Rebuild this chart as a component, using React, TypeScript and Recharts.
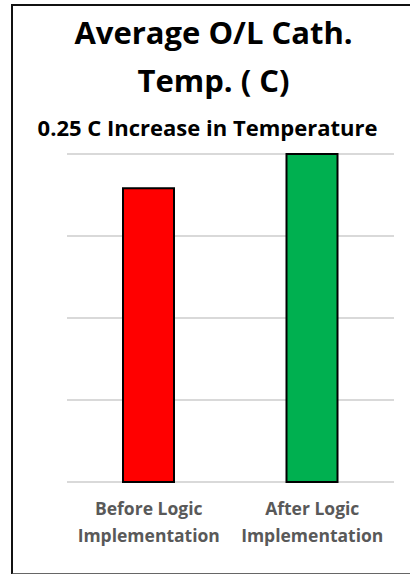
import React from 'react';
import { BarChart, Bar, XAxis, YAxis, CartesianGrid, Cell } from 'recharts';

// Two categories, each split over two label lines
const categories = ['Before Logic Implementation', 'After Logic Implementation'];
const categoryLines = [
  ['Before Logic', 'Implementation'],
  ['After Logic', 'Implementation'],
];
// Average O/L cathode temperature (C)
const avgTemp = [45.35, 45.6];
const barColors = ['#FF0000', '#00B050'];
// Value axis (labels hidden, gridlines only)
const yDomain = [43.2, 45.6];
const yTicks = [43.2, 43.8, 44.4, 45.0, 45.6];

const titleLines = ['Average O/L Cath.', 'Temp. ( C)'];
const subtitle = '0.25 C Increase in Temperature';

const data = categories.map((name, i) => ({ name, value: avgTemp[i] }));

const FONT = "'Open Sans', sans-serif";

const CategoryTick = (props: any) => {
  const { x, y, index } = props;
  const lines = categoryLines[index] || [];
  return (
    <g>
      {lines.map((t: string, i: number) => (
        <text
          key={i}
          x={x}
          y={y + 33 + i * 27}
          textAnchor="middle"
          fontFamily={FONT}
          fontWeight={700}
          fontSize={17.5}
          fill="#595959"
        >
          {t}
        </text>
      ))}
    </g>
  );
};

// Value ticks are kept for the gridlines but drawn as nothing
const NoTick = () => <g />;

export default function App() {
  return (
    <div style={{ position: 'absolute', left: 0, top: 0, width: 410, height: 574, background: '#fff', overflow: 'hidden' }}>
      <div
        style={{
          position: 'absolute',
          left: 11,
          top: 4,
          width: 420,
          height: 567,
          borderLeft: '2px solid #111',
          borderTop: '2px solid #111',
          borderBottom: '2px solid #666',
        }}
      />
      <svg width={410} height={574} style={{ position: 'absolute', left: 0, top: 0 }}>
        <text x={213.5} y={44} textAnchor="middle" fontFamily={FONT} fontWeight={700} fontSize={31} fill="#000">
          {titleLines[0]}
        </text>
        <text x={213.5} y={92} textAnchor="middle" fontFamily={FONT} fontWeight={700} fontSize={31} fill="#000">
          {titleLines[1]}
        </text>
        <text x={207.5} y={136} textAnchor="middle" fontFamily={FONT} fontWeight={700} fontSize={22} fill="#000">
          {subtitle}
        </text>
      </svg>
      <div style={{ position: 'absolute', left: 0, top: 0 }}>
        <BarChart
          width={410}
          height={574}
          data={data}
          margin={{ top: 154, right: 16, bottom: 32, left: 67 }}
          barCategoryGap="34%"
        >
          <CartesianGrid vertical={false} stroke="#D9D9D9" strokeWidth={2} />
          <XAxis
            dataKey="name"
            axisLine={false}
            tickLine={false}
            tickSize={0}
            tickMargin={0}
            height={60}
            interval={0}
            tick={<CategoryTick />}
          />
          <YAxis
            type="number"
            domain={yDomain}
            ticks={yTicks}
            interval={0}
            width={0}
            axisLine={false}
            tickLine={false}
            tick={<NoTick />}
          />
          <Bar dataKey="value" barSize={51} stroke="#000" strokeWidth={2} isAnimationActive={false}>
            {data.map((d, i) => (
              <Cell key={d.name} fill={barColors[i]} />
            ))}
          </Bar>
        </BarChart>
      </div>
    </div>
  );
}
